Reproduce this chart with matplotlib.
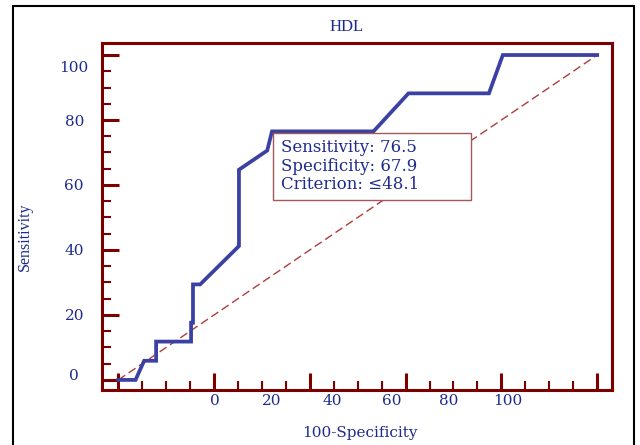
import matplotlib
matplotlib.use("Agg")
import matplotlib.pyplot as plt
from matplotlib.patches import Rectangle
from matplotlib.transforms import ScaledTranslation

fpr = [0, 3.6, 5.4, 7.9, 7.9, 15.2, 15.2, 15.6, 15.6, 17.1, 25.2, 25.2,
       31.1, 32.1, 53.3, 60.6, 77.4, 80.3, 100]
sens = [0, 0, 5.9, 5.9, 11.8, 11.8, 17.6, 17.6, 29.4, 29.4, 41.2, 64.7,
        70.6, 76.5, 76.5, 88.2, 88.2, 100, 100]
diag = [0, 100]

# Point de coupure
cut_fpr, cut_sens = 32.1, 76.5
cut_spec, criterion = 67.9, 48.1

# Graduations
major_ticks = [0, 20, 40, 60, 80, 100]
minor_ticks = list(range(0, 101, 5))
xlabel_pos = [20.2, 32.1, 44.7, 57.1, 69.0, 81.3]
xlabel_txt = ["0", "20", "40", "60", "80", "100"]
ylabel_pos = [1.8, 20, 40, 60, 80, 96.5]
ylabel_txt = ["0", "20", "40", "60", "80", "100"]

navy = "#1f2b8c"
curve = "#3b40a3"
spine = "#7d0000"
dash = "#b03c3c"

fig = plt.figure(figsize=(6.4, 4.45), dpi=100)
ax = fig.add_axes([102 / 640, 1 - 390 / 445, 510 / 640, 347 / 445])

ax.plot(diag, diag, ls=(0, (6, 3)), color=dash, lw=1.0)
ax.plot(fpr, sens, color=curve, lw=2.7, solid_joinstyle="miter")

ax.set_xlim(-3.4, 103.1)
ax.set_ylim(-3.1, 103.7)

for s in ax.spines.values():
    s.set_color(spine)
    s.set_linewidth(2.2)

ax.set_xticks(major_ticks)
ax.set_yticks(major_ticks)
ax.set_xticks(minor_ticks, minor=True)
ax.set_yticks(minor_ticks, minor=True)
ax.tick_params(which="major", direction="in", length=12, width=2.2, color=spine,
               labelbottom=False, labelleft=False)
ax.tick_params(which="minor", direction="in", length=6.5, width=1.5, color=spine)

# Étiquettes des axes (décalées comme sur l'original)
secx = ax.secondary_xaxis("bottom")
secx.set_xticks(xlabel_pos, xlabel_txt)
secx.tick_params(length=0, pad=3, labelcolor=navy, labelsize=11)
secx.spines["bottom"].set_visible(False)
for t in secx.get_xticklabels():
    t.set_family("DejaVu Serif")

secy = ax.secondary_yaxis("left")
secy.set_yticks(ylabel_pos, ylabel_txt)
secy.tick_params(length=0, pad=20, labelcolor=navy, labelsize=11)
secy.spines["left"].set_visible(False)
for t in secy.get_yticklabels():
    t.set_family("DejaVu Serif")
    t.set_horizontalalignment("center")

ax.set_xlabel("100-Specificity", family="DejaVu Serif", fontsize=11, color=navy)
ax.xaxis.set_label_coords(0.506, -0.104)
ax.set_ylabel("Sensitivity", family="Liberation Serif", fontsize=11.5, color=navy)
ax.yaxis.set_label_coords(-0.135, 0.441)

fig.text(347 / 640, 1 - 27 / 445, "HDL", family="Liberation Serif", fontsize=12,
         color=navy, ha="center", va="center")

# Encadré du critère
anchor = fig.dpi_scale_trans + ScaledTranslation(cut_fpr, cut_sens, ax.transData)
ax.add_patch(Rectangle((0.01, -0.69), 1.98, 0.67, transform=anchor, fill=True,
                       facecolor="white", edgecolor="#a05a5a", lw=1.0, zorder=3))
ax.text(0.09, -0.08,
        f"Sensitivity: {cut_sens}\nSpecificity: {cut_spec}\nCriterion: \u2264{criterion}",
        transform=anchor, ha="left", va="top", family="DejaVu Serif", fontsize=12,
        color=navy, linespacing=1.1, zorder=4)

# Cadre de la figure
fig.patches.append(Rectangle((13 / 640, -0.02), 621 / 640, 1.02 - 6 / 445,
                             transform=fig.transFigure, fill=False,
                             edgecolor="black", lw=1.5))

fig.savefig("out.png", dpi=100)
